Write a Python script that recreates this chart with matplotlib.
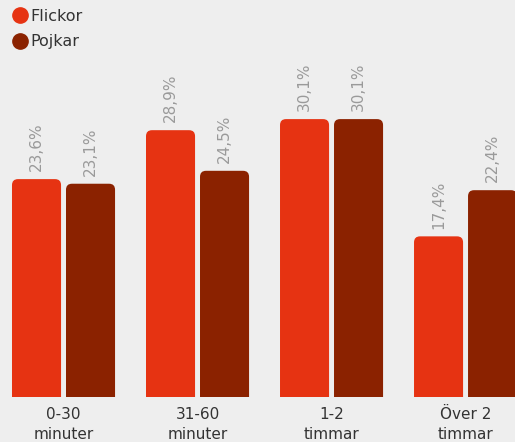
import numpy as np
import matplotlib
matplotlib.use("Agg")
import matplotlib.pyplot as plt
from matplotlib.patches import FancyBboxPatch
from matplotlib.lines import Line2D

# data
kategorier = ["0-30\nminuter", "31-60\nminuter", "1-2\ntimmar", "Över 2\ntimmar"]
flickor = [23.6, 28.9, 30.1, 17.4]
pojkar = [23.1, 24.5, 30.1, 22.4]
serier = ["Flickor", "Pojkar"]

fl_farg = "#E63312"
pk_farg = "#8B2200"
bg = "#EEEEEE"

fig = plt.figure(figsize=(5.15, 4.42), dpi=100, facecolor=bg)
ax = fig.add_axes([0, 45 / 442, 1, 397 / 442])
ax.set_facecolor(bg)

x = np.arange(len(kategorier))
bredd = 0.366
off = 0.2015
ax.set_xlim(-0.474, 3.369)
ax.set_ylim(0, 43.0)

# px per enhet för att få runda hörn
px_x = 515 / (3.369 + 0.474)
px_y = 397 / 43.0
radie = 6 / px_x

for vals, pos, farg in [(flickor, x - off, fl_farg), (pojkar, x + off, pk_farg)]:
    staplar = ax.bar(pos, vals, bredd, color=farg)
    for rect, v in zip(staplar, vals):
        rect.set_visible(False)
        p = FancyBboxPatch((rect.get_x(), -2), rect.get_width(), v + 2,
                           boxstyle=f"round,pad=0,rounding_size={radie}",
                           mutation_aspect=px_x / px_y,
                           facecolor=farg, edgecolor="none")
        ax.add_patch(p)
        ax.text(rect.get_x() + rect.get_width() / 2, v + 0.85,
                f"{v:.1f}%".replace(".", ","), rotation=90,
                ha="center", va="bottom", color="#9A9A9A", fontsize=11)

for xi, lab in zip(x, kategorier):
    ax.text(xi, -1.05, lab, ha="center", va="top", fontsize=11,
            color="#333333", linespacing=1.45)

for s in ax.spines.values():
    s.set_visible(False)
ax.set_xticks([])
ax.set_yticks([])

handles = [Line2D([], [], marker="o", ls="none", color=fl_farg, markersize=11),
           Line2D([], [], marker="o", ls="none", color=pk_farg, markersize=11)]
fig.legend(handles, serier, loc="upper left", bbox_to_anchor=(0.006, 1.005),
           frameon=False, fontsize=11.5, handlelength=0.7, handletextpad=0.3,
           labelspacing=0.65, borderaxespad=0.3, labelcolor="#333333")

fig.savefig("out.png", dpi=100, facecolor=bg)
